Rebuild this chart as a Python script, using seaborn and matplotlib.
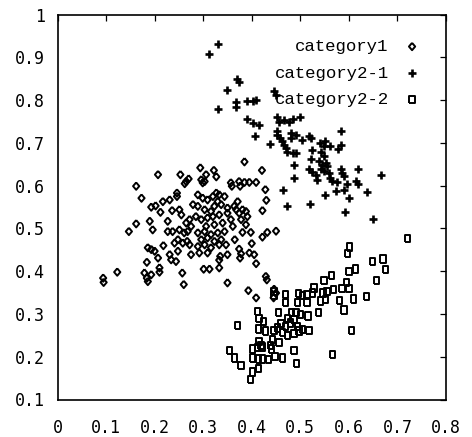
import matplotlib
matplotlib.use("Agg")
import matplotlib.pyplot as plt
import seaborn as sns
import pandas as pd

# ---- data ----
cat1_x = [0.207,0.162,0.253,0.265,0.262,0.270,0.173,0.246,0.246,0.193,0.202,0.217,0.231,0.212,0.236,0.251,0.255,0.279,0.162,0.190,0.227,0.265,0.272,0.275,
          0.294,0.385,0.421,0.322,0.327,0.306,0.296,0.303,0.299,0.357,0.359,0.374,0.376,0.385,0.395,0.409,0.428,0.430,0.422,
          0.289,0.299,0.309,0.320,0.327,0.333,0.344,0.330,0.337,0.350,0.323,0.316,0.303,0.289,0.285,0.296,0.309,0.320,0.333,0.350,0.364,0.371,0.368,0.374,0.381,0.388,0.391,0.388,0.378,0.357,0.340,0.323,0.306,0.361,
          0.147,0.196,0.227,0.237,0.251,0.261,0.268,0.186,0.193,0.200,0.218,0.241,0.248,0.258,0.272,0.231,0.234,0.244,0.248,0.207,0.184,0.210,0.210,0.179,0.193,0.184,0.186,0.123,0.094,0.095,0.257,0.260,0.267,0.275,
          0.289,0.303,0.316,0.330,0.344,0.296,0.309,0.323,0.337,0.289,0.303,0.316,0.333,0.347,0.292,0.309,0.365,0.381,0.398,0.422,0.432,0.450,0.400,0.374,0.378,0.376,0.350,0.335,0.333,0.395,0.405,0.409,0.333,0.301,0.313,0.350,0.429,0.431,0.393,0.409,0.446,0.450,0.445]
cat1_y = [0.626,0.599,0.626,0.610,0.605,0.616,0.571,0.583,0.575,0.550,0.553,0.563,0.567,0.538,0.542,0.544,0.532,0.556,0.511,0.517,0.517,0.513,0.521,0.505,
          0.642,0.656,0.636,0.636,0.621,0.626,0.614,0.610,0.607,0.607,0.599,0.610,0.599,0.608,0.608,0.608,0.591,0.566,0.542,
          0.579,0.571,0.567,0.575,0.583,0.579,0.575,0.563,0.556,0.548,0.552,0.540,0.544,0.552,0.528,0.521,0.525,0.528,0.532,0.536,0.552,0.563,0.544,0.536,0.544,0.540,0.528,0.509,0.521,0.521,0.513,0.509,0.505,0.505,
          0.493,0.497,0.493,0.493,0.497,0.490,0.493,0.455,0.451,0.447,0.460,0.466,0.474,0.466,0.462,0.439,0.427,0.423,0.447,0.431,0.421,0.408,0.398,0.396,0.392,0.384,0.376,0.398,0.384,0.374,0.396,0.369,0.470,0.439,
          0.490,0.493,0.486,0.490,0.493,0.474,0.478,0.470,0.474,0.458,0.462,0.455,0.462,0.462,0.443,0.443,0.474,0.491,0.491,0.480,0.491,0.494,0.465,0.452,0.441,0.431,0.439,0.435,0.426,0.443,0.439,0.418,0.408,0.405,0.405,0.373,0.388,0.380,0.355,0.338,0.358,0.349,0.338]

cat21_x = [0.311,0.331,0.370,0.374,0.349,0.330,0.367,0.367,0.390,0.402,0.409,0.445,0.450,0.391,0.402,0.415,0.453,0.456,0.467,0.477,0.484,0.499,
           0.407,0.438,0.452,0.453,0.458,0.463,0.467,0.470,0.473,0.480,0.491,0.480,0.484,0.491,0.487,0.487,0.465,0.473,
           0.583,0.518,0.521,0.504,0.540,0.551,0.549,0.562,0.583,0.578,0.525,0.542,0.521,0.549,0.538,0.545,0.552,0.555,0.518,0.525,0.532,0.535,0.542,0.549,0.559,0.562,0.566,0.576,0.583,0.586,0.590,0.619,0.596,0.590,0.573,0.614,0.619,0.667,0.638,0.551,0.600,0.519,0.592,0.649]
cat21_y = [0.909,0.932,0.850,0.842,0.823,0.780,0.795,0.784,0.797,0.797,0.800,0.821,0.813,0.756,0.747,0.743,0.761,0.748,0.753,0.748,0.756,0.761,
           0.717,0.698,0.727,0.719,0.712,0.704,0.696,0.688,0.680,0.723,0.719,0.712,0.677,0.677,0.649,0.618,0.591,0.553,
           0.727,0.717,0.712,0.708,0.700,0.704,0.692,0.692,0.696,0.686,0.684,0.680,0.663,0.669,0.657,0.649,0.653,0.645,0.639,0.631,0.626,0.614,0.638,0.634,0.630,0.618,0.610,0.608,0.638,0.630,0.622,0.639,0.603,0.589,0.587,0.610,0.603,0.626,0.585,0.579,0.571,0.558,0.538,0.522]

cat22_x = [0.564,0.549,0.528,0.547,0.555,0.552,0.542,0.538,0.566,0.470,0.470,0.496,0.504,0.514,0.525,0.494,0.514,0.446,0.446,0.412,0.455,0.482,0.491,0.501,0.516,0.415,0.424,0.473,0.480,0.487,0.371,0.460,0.470,0.494,0.504,0.518,0.414,0.429,0.446,0.453,0.463,0.473,0.487,0.497,0.443,0.439,0.415,0.419,0.456,0.402,0.412,0.422,0.441,0.354,0.364,0.378,0.402,0.414,0.422,0.434,0.448,0.463,0.414,0.402,0.398,0.487,0.492,
           0.720,0.602,0.597,0.648,0.670,0.675,0.657,0.600,0.614,0.595,0.586,0.600,0.569,0.581,0.609,0.637,0.590,0.605]
cat22_y = [0.390,0.379,0.361,0.349,0.353,0.334,0.330,0.304,0.205,0.345,0.327,0.348,0.343,0.345,0.349,0.327,0.327,0.353,0.343,0.306,0.304,0.304,0.303,0.299,0.295,0.289,0.283,0.289,0.279,0.287,0.273,0.278,0.271,0.271,0.264,0.262,0.265,0.260,0.262,0.267,0.257,0.250,0.254,0.260,0.240,0.226,0.236,0.226,0.234,0.218,0.221,0.223,0.218,0.215,0.197,0.179,0.197,0.195,0.195,0.193,0.200,0.197,0.172,0.164,0.147,0.215,0.184,
           0.476,0.457,0.441,0.423,0.429,0.404,0.379,0.400,0.405,0.373,0.359,0.359,0.357,0.332,0.335,0.341,0.309,0.262]

labels = ["category1", "category2-1", "category2-2"]
xtick_vals = [0, 0.1, 0.2, 0.3, 0.4, 0.5, 0.6, 0.7, 0.8]
xtick_labels = ["0", "0.1", "0.2", "0.3", "0.4", "0.5", "0.6", "0.7", "0.8"]
ytick_vals = [0.1, 0.2, 0.3, 0.4, 0.5, 0.6, 0.7, 0.8, 0.9, 1.0]
ytick_labels = ["0.1", "0.2", "0.3", "0.4", "0.5", "0.6", "0.7", "0.8", "0.9", "1"]

sns.set_theme(style="white")
plt.rcParams['font.family'] = ['DejaVu Sans Mono', 'DejaVu Sans']

fig = plt.figure(figsize=(4.72, 4.37), dpi=100)
ax = fig.add_axes([57.5/472, 1-399.5/437, (446-57.5)/472, (399.5-14.7)/437])

diamond = [(0, 1), (0.85, 0), (0, -1), (-0.85, 0), (0, 1)]
rect = [(-0.72, -1), (0.72, -1), (0.72, 1), (-0.72, 1), (-0.72, -1)]

df1 = pd.DataFrame({"x": cat1_x, "y": cat1_y})
df2 = pd.DataFrame({"x": cat21_x, "y": cat21_y})
df3 = pd.DataFrame({"x": cat22_x, "y": cat22_y})

sns.scatterplot(data=df1, x="x", y="y", ax=ax, marker=diamond, s=28, color="black",
                facecolor="none", edgecolor="black", linewidth=1.4, label=labels[0])
sns.scatterplot(data=df2, x="x", y="y", ax=ax, marker="+", s=30, color="black",
                linewidth=1.9, label=labels[1])
sns.scatterplot(data=df3, x="x", y="y", ax=ax, marker=rect, s=28, color="black",
                facecolor="none", edgecolor="black", linewidth=1.4, label=labels[2])

ax.set_xlim(0, 0.8)
ax.set_ylim(0.1, 1.0)
ax.set_xticks(xtick_vals)
ax.set_xticklabels(xtick_labels)
ax.set_yticks(ytick_vals)
ax.set_yticklabels(ytick_labels)
ax.set_xlabel("")
ax.set_ylabel("")
for sp in ax.spines.values():
    sp.set_visible(True)
    sp.set_color("black")
    sp.set_linewidth(1.2)
ax.tick_params(axis="both", direction="in", length=4.3, width=0.9, color="black",
               top=True, right=True, labelsize=12, labelcolor="black")
ax.tick_params(axis="x", pad=14)
ax.tick_params(axis="y", pad=9)
ax.grid(False)

leg = ax.legend(loc="upper right", bbox_to_anchor=(0.935, 0.937), markerfirst=False,
                frameon=False, borderpad=0, borderaxespad=0, handlelength=1.0,
                handletextpad=0.85, labelspacing=0.65,
                prop={"family": "Liberation Mono", "size": 12.5})
for t in leg.get_texts():
    t.set_color("black")

fig.savefig("out.png", dpi=100)
